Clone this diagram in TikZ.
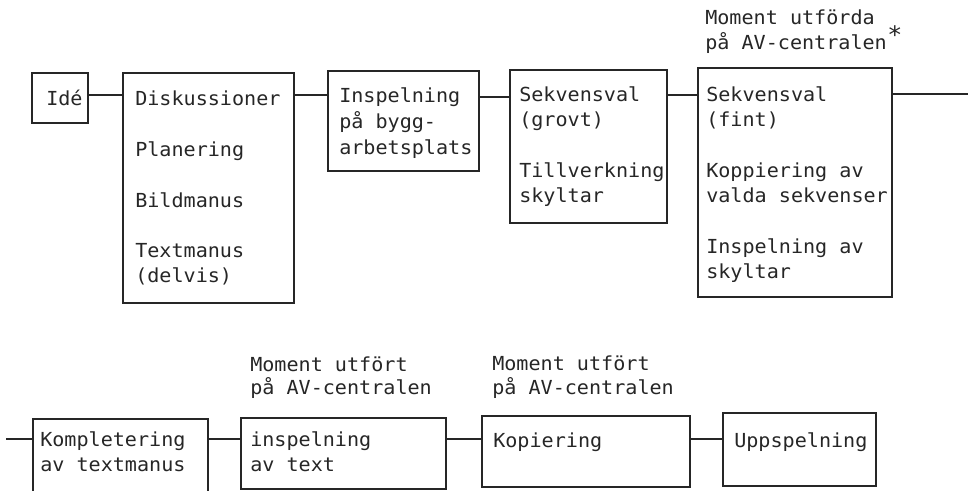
\documentclass[tikz,border=0pt]{standalone}
\usepackage{fontspec}
\newfontfamily\tw[FakeStretch=1.04]{DejaVu Sans Mono}
\begin{document}
\begin{tikzpicture}[x=0.75pt,y=-0.75pt,
  box/.style={draw=black!85,line width=1.3pt,anchor=north west,inner sep=0pt,outer sep=0pt},
  txt/.style={anchor=base west,inner sep=0pt,text=black!85,font=\tw\fontsize{14.5}{18}\selectfont},
  link/.style={draw=black!85,line width=1.3pt}]
\useasboundingbox (0,0) rectangle (968,491);
\clip (0,0) rectangle (968,491);
% top row boxes
\node[box,minimum width=56*0.75pt,minimum height=50*0.75pt] (ide) at (32,73) {};
\node[box,minimum width=171*0.75pt,minimum height=230*0.75pt] (disk) at (123,73) {};
\node[box,minimum width=151*0.75pt,minimum height=100*0.75pt] (insp) at (328,71) {};
\node[box,minimum width=157*0.75pt,minimum height=153*0.75pt] (sek) at (510,70) {};
\node[box,minimum width=194*0.75pt,minimum height=229*0.75pt] (av) at (698,68) {};
% top row texts
\node[txt] (t1) at (46,106) {Idé};
\node[txt] (t2) at (135,106) {Diskussioner};
\node[txt] (t3) at (135,157) {Planering};
\node[txt] (t4) at (135,208) {Bildmanus};
\node[txt] (t5) at (135,258) {Textmanus};
\node[txt] (t6) at (135,283) {(delvis)};
\node[txt] (t7) at (339,103) {Inspelning};
\node[txt] (t8) at (339,129) {på bygg-};
\node[txt] (t9) at (339,155) {arbetsplats};
\node[txt] (t10) at (519,102) {Sekvensval};
\node[txt] (t11) at (519,127) {(grovt)};
\node[txt] (t12) at (519,178) {Tillverkning};
\node[txt] (t13) at (519,203) {skyltar};
\node[txt] (t14) at (706,102) {Sekvensval};
\node[txt] (t15) at (706,127) {(fint)};
\node[txt] (t16) at (706,178) {Koppiering av};
\node[txt] (t17) at (706,203) {valda sekvenser};
\node[txt] (t18) at (706,254) {Inspelning av};
\node[txt] (t19) at (706,279) {skyltar};
\node[txt] (m1) at (705,25) {Moment utförda};
\node[txt] (m2) at (705,50) {på AV-centralen};
\node[txt,font=\tw\fontsize{18}{18}\selectfont] (star) at (887,44) {*};
% top connectors
\coordinate (end1) at (968,94);
\draw[link] (ide.east |- 0,95) -- (disk.west |- 0,95);
\draw[link] (disk.east |- 0,95) -- (insp.west |- 0,95);
\draw[link] (insp.east |- 0,97) -- (sek.west |- 0,97);
\draw[link] (sek.east |- 0,95) -- (av.west |- 0,95);
\draw[link] (av.east |- end1) -- (end1);
% bottom row boxes
\node[box,minimum width=175*0.75pt,minimum height=110*0.75pt] (komp) at (33,419) {};
\node[box,minimum width=205*0.75pt,minimum height=71*0.75pt] (insp2) at (241,418) {};
\node[box,minimum width=208*0.75pt,minimum height=71*0.75pt] (kop) at (482,416) {};
\node[box,minimum width=153*0.75pt,minimum height=73*0.75pt] (upp) at (723,413) {};
% bottom row texts
\node[txt] (b1) at (40,447) {Kompletering};
\node[txt] (b2) at (40,472) {av textmanus};
\node[txt] (b3) at (250,447) {inspelning};
\node[txt] (b4) at (250,472) {av text};
\node[txt] (b5) at (493,448) {Kopiering};
\node[txt] (b6) at (734,448) {Uppspelning};
\node[txt] (n1) at (250,372) {Moment utfört};
\node[txt] (n2) at (250,395) {på AV-centralen};
\node[txt] (n3) at (492,371) {Moment utfört};
\node[txt] (n4) at (492,395) {på AV-centralen};
% bottom connectors
\coordinate (start2) at (6,439);
\draw[link] (start2) -- (komp.west |- start2);
\draw[link] (komp.east |- 0,439) -- (insp2.west |- 0,439);
\draw[link] (insp2.east |- 0,439) -- (kop.west |- 0,439);
\draw[link] (kop.east |- 0,439) -- (upp.west |- 0,439);
\end{tikzpicture}
\end{document}
